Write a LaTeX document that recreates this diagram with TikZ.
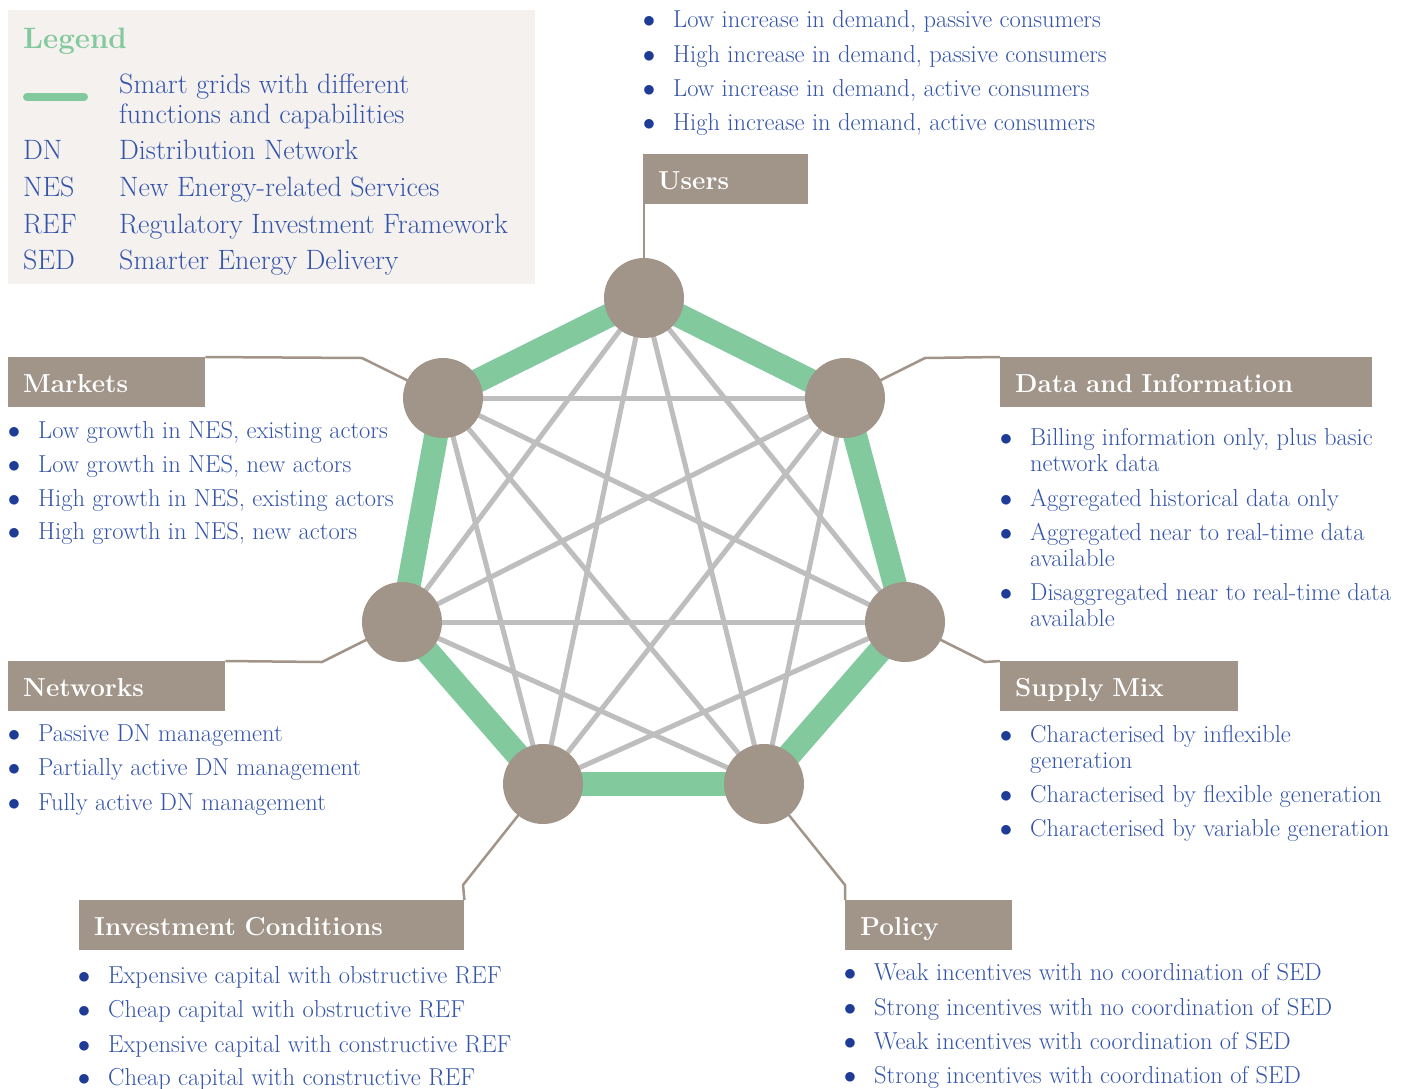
\documentclass[tikz,border=0pt]{standalone}
\usepackage{tikz}
\definecolor{hubgrey}{RGB}{161,149,137}
\definecolor{ringgreen}{RGB}{130,201,158}
\definecolor{chordgrey}{RGB}{190,190,190}
\definecolor{txtblue}{RGB}{52,84,170}
\definecolor{dotblue}{RGB}{30,60,150}
\definecolor{legendbg}{RGB}{244,241,238}
\usetikzlibrary{backgrounds}
\usetikzlibrary{positioning}
\newcommand{\bul}{\llap{\textcolor{dotblue}{$\bullet$}\hspace{18pt}}}

\begin{document}
\begin{tikzpicture}[x=1pt,y=-1pt]
        \tikzset{hub/.style={circle, fill=hubgrey, minimum size=80pt, inner sep=0pt},
                head/.style={fill=hubgrey, text=white, font=\bfseries\fontsize{26}{30}\selectfont,
                        anchor=north west, minimum height=50pt, inner xsep=15pt, inner ysep=0pt,
                        text height=24pt, text depth=3pt, text width=#1, align=left},
                item/.style={anchor=base west, text=txtblue, font=\fontsize{24.5}{26}\selectfont,
                        inner sep=0pt, align=left},
                key/.style={anchor=base west, text=txtblue, font=\fontsize{28}{30}\selectfont,
                        inner sep=0pt, align=left},
                ring/.style={draw=ringgreen, line width=24pt},
                chord/.style={draw=chordgrey, line width=5pt},
                leader/.style={draw=hubgrey, line width=2.5pt}}

        \useasboundingbox (0,0) rectangle (1402,1088);

        % legend
        \fill[legendbg] (8,10) rectangle (535,284);
        \node[anchor=base west, text=ringgreen, inner sep=0pt,
                font=\bfseries\fontsize{29.5}{30}\selectfont] (legend) at (23,48) {Legend};
        \draw[ringgreen, line width=8pt, line cap=round] (27,97) -- (84,97);
        \node[key] (k0) at (119,123) {Smart grids with different\\functions and capabilities};
        \node[key] (dn) at (23,159) {DN};
        \node[key] (nes) at (23,196) {NES};
        \node[key] (ref) at (23,233) {REF};
        \node[key] (sed) at (23,269) {SED};
        \node[key] (k1) at (119,159) {Distribution Network};
        \node[key] (k2) at (119,196) {New Energy-related Services};
        \node[key] (k3) at (119,233) {Regulatory Investment Framework};
        \node[key] (k4) at (119,269) {Smarter Energy Delivery};

        % hubs
        \node[hub] (1) at (644,298) {};
        \node[hub] (2) at (845,398) {};
        \node[hub] (3) at (905,622) {};
        \node[hub] (4) at (764,784) {};
        \node[hub] (5) at (543,784) {};
        \node[hub] (6) at (402,622) {};
        \node[hub] (7) at (443,398) {};

        % headings
        \node[head=135pt] (b1) at (643,154) {Users};
        \node[head=342pt] (b2) at (1000,357) {Data and Information};
        \node[head=208pt] (b3) at (1000,661) {Supply Mix};
        \node[head=137pt] (b4) at (845,900) {Policy};
        \node[head=355pt] (b5) at (79,900) {Investment Conditions};
        \node[head=187pt] (b6) at (8,661) {Networks};
        \node[head=167pt] (b7) at (8,357) {Markets};

        % options (two-line items sit on the baseline of their last line)
        \node[item] (u1) at (673,27) {\bul Low increase in demand, passive consumers};
        \node[item] (u2) at (673,62) {\bul High increase in demand, passive consumers};
        \node[item] (u3) at (673,96) {\bul Low increase in demand, active consumers};
        \node[item] (u4) at (673,130) {\bul High increase in demand, active consumers};

        \node[item] (d1) at (1030,471) {\bul Billing information only, plus basic\\network data};
        \node[item] (d2) at (1030,506) {\bul Aggregated historical data only};
        \node[item] (d3) at (1030,566) {\bul Aggregated near to real-time data\\available};
        \node[item] (d4) at (1030,626) {\bul Disaggregated near to real-time data\\available};

        \node[item] (s1) at (1030,768) {\bul Characterised by inflexible\\generation};
        \node[item] (s2) at (1030,802) {\bul Characterised by flexible generation};
        \node[item] (s3) at (1030,836) {\bul Characterised by variable generation};

        \node[item] (p1) at (874,980) {\bul Weak incentives with no coordination of SED};
        \node[item] (p2) at (874,1015) {\bul Strong incentives with no coordination of SED};
        \node[item] (p3) at (874,1049) {\bul Weak incentives with coordination of SED};
        \node[item] (p4) at (874,1083) {\bul Strong incentives with coordination of SED};

        \node[item] (c1) at (108,983) {\bul Expensive capital with obstructive REF};
        \node[item] (c2) at (108,1017) {\bul Cheap capital with obstructive REF};
        \node[item] (c3) at (108,1052) {\bul Expensive capital with constructive REF};
        \node[item] (c4) at (108,1085) {\bul Cheap capital with constructive REF};

        \node[item] (n1) at (38,741) {\bul Passive DN management};
        \node[item] (n2) at (38,775) {\bul Partially active DN management};
        \node[item] (n3) at (38,810) {\bul Fully active DN management};

        \node[item] (m1) at (38,438) {\bul Low growth in NES, existing actors};
        \node[item] (m2) at (38,472) {\bul Low growth in NES, new actors};
        \node[item] (m3) at (38,506) {\bul High growth in NES, existing actors};
        \node[item] (m4) at (38,539) {\bul High growth in NES, new actors};

        % bends of the leader lines
        \coordinate (t2) at (925,358);
        \coordinate (t3) at (985,662);
        \coordinate (t4) at (845,885);
        \coordinate (t5) at (463,885);
        \coordinate (t6) at (322,662);
        \coordinate (t7) at (362,358);

        \begin{scope}[on background layer]
                \draw[leader] (1.center) -- (1.center |- b1.south);
                \draw[leader] (2.center) -- (t2) -- (b2.north west);
                \draw[leader] (3.center) -- (t3) -- (b3.north west);
                \draw[leader] (4.center) -- (t4) -- (b4.north west);
                \draw[leader] (5.center) -- (t5) -- (b5.north east);
                \draw[leader] (6.center) -- (t6) -- (b6.north east);
                \draw[leader] (7.center) -- (t7) -- (b7.north east);

                \path (1.center) edge[chord] (3.center);
                \path (1.center) edge[chord] (4.center);
                \path (1.center) edge[chord] (5.center);
                \path (1.center) edge[chord] (6.center);
                \path (2.center) edge[chord] (4.center);
                \path (2.center) edge[chord] (5.center);
                \path (2.center) edge[chord] (6.center);
                \path (2.center) edge[chord] (7.center);
                \path (3.center) edge[chord] (5.center);
                \path (3.center) edge[chord] (6.center);
                \path (3.center) edge[chord] (7.center);
                \path (4.center) edge[chord] (6.center);
                \path (4.center) edge[chord] (7.center);
                \path (5.center) edge[chord] (7.center);

                \path (1.center) edge[ring] (2.center);
                \path (2.center) edge[ring] (3.center);
                \path (3.center) edge[ring] (4.center);
                \path (4.center) edge[ring] (5.center);
                \path (5.center) edge[ring] (6.center);
                \path (6.center) edge[ring] (7.center);
                \path (7.center) edge[ring] (1.center);
        \end{scope}

\end{tikzpicture}
\end{document}
